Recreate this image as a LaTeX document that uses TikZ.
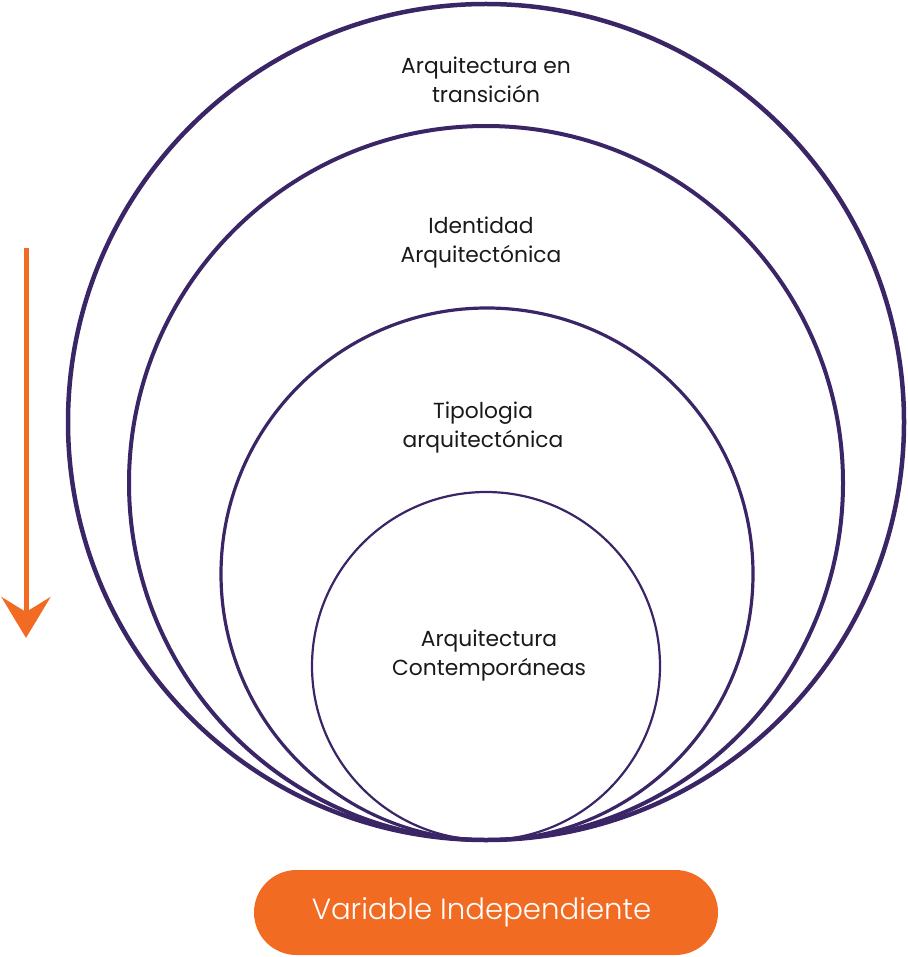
\documentclass[tikz,border=0pt]{standalone}
\usepackage{fontspec}
\setmainfont{Poppins}
\newfontfamily\lightfont{Poppins}[UprightFont={* Light}]
\usetikzlibrary{arrows.meta}
\definecolor{ring}{HTML}{3A2566}
\definecolor{accent}{HTML}{F26B23}
\tikzset{
  ring/.style={draw=ring},
  lbl/.style={align=center, font=\fontsize{21.8}{29}\selectfont, text=black!90, inner sep=0pt},
}
\begin{document}
\begin{tikzpicture}[x=1pt,y=-1pt]
\useasboundingbox (0,0) rectangle (907,957);
\draw[ring, line width=4.5pt] (486,422) circle (418);
\draw[ring, line width=4pt] (486,483) circle (357);
\draw[ring, line width=3.2pt] (487,574) circle (266);
\draw[ring, line width=2.2pt] (486,666) circle (174);
\node[lbl] (t1) at (486,80) {Arquitectura en\\transición};
\node[lbl] (t2) at (481,243) {Identidad\\Arquitectónica};
\node[lbl] (t3) at (483,428) {Tipologia\\arquitectónica};
\node[lbl] (t4) at (489,656) {Arquitectura\\Contemporáneas};
\coordinate (a0) at (26,248);
\coordinate (a1) at (26,638);
\draw[accent, line width=5pt, -{Stealth[length=41pt,width=49pt,inset=15pt]}] (a0) -- (a1);
\node[fill=accent, rounded corners=42.5pt, minimum width=464pt, minimum height=85pt, inner sep=0pt,
  text=white, font=\lightfont\fontsize{29.2}{31}\selectfont] (btn) at (486,912.5) {\hspace*{-9pt}Variable Independiente};
\end{tikzpicture}
\end{document}
